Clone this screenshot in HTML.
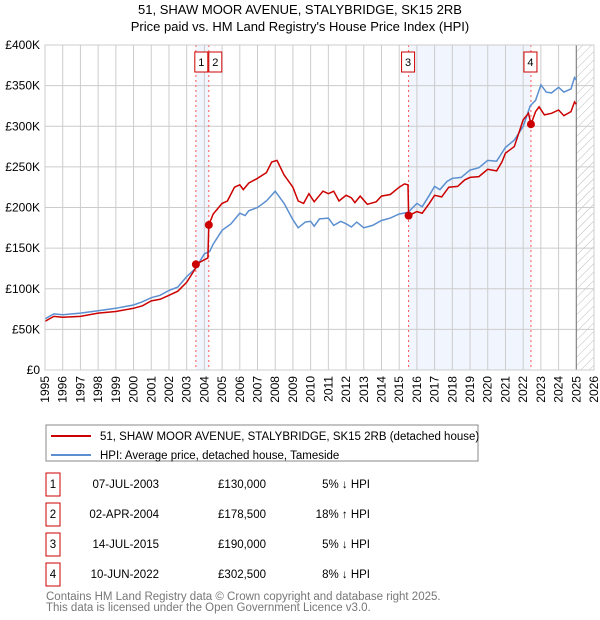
<!DOCTYPE html>
<html><head><meta charset="utf-8"><style>
body{margin:0;background:#fff;font-family:"Liberation Sans","DejaVu Sans",sans-serif;}
svg{display:block}
</style></head><body>
<svg id="c" width="600" height="620" xmlns="http://www.w3.org/2000/svg">
<defs><pattern id="hatch" width="6" height="6" patternUnits="userSpaceOnUse" patternTransform="rotate(45)"><line x1="0" y1="0" x2="0" y2="6" stroke="#bbb" stroke-width="1"/></pattern></defs>
<text x="300" y="14" text-anchor="middle" font-size="13" fill="#000">51, SHAW MOOR AVENUE, STALYBRIDGE, SK15 2RB</text>
<text x="300" y="31" text-anchor="middle" font-size="13" fill="#000">Price paid vs. HM Land Registry's House Price Index (HPI)</text>
<g id="plot"></g>
<g>
<rect x="46" y="425" width="432" height="36" fill="#fff" stroke="#888"/>
<line x1="51" y1="436" x2="91" y2="436" stroke="#cc0000" stroke-width="2"/>
<text x="100" y="440" font-size="11.5">51, SHAW MOOR AVENUE, STALYBRIDGE, SK15 2RB (detached house)</text>
<line x1="51" y1="455" x2="91" y2="455" stroke="#5b8fd0" stroke-width="2"/>
<text x="100" y="459" font-size="11.5">HPI: Average price, detached house, Tameside</text>
</g>
<g id="table" font-size="11.5"></g>
<text x="46" y="600" font-size="11.5" fill="#777">Contains HM Land Registry data © Crown copyright and database right 2025.</text>
<text x="46" y="611" font-size="11.5" fill="#777">This data is licensed under the Open Government Licence v3.0.</text>
</svg>
<script>
const hpiX=[1995,1995.5,1996,1997,1998,1999,1999.5,2000,2000.5,2001,2001.5,2002,2002.5,2003,2003.5,2004,2004.3,2004.5,2005,2005.5,2006,2006.3,2006.5,2007,2007.5,2008,2008.5,2009,2009.3,2009.7,2010,2010.2,2010.5,2011,2011.3,2011.7,2012,2012.3,2012.6,2013,2013.5,2014,2014.5,2015,2015.5,2016,2016.3,2016.7,2017,2017.3,2017.7,2018,2018.5,2019,2019.5,2020,2020.5,2021,2021.5,2022,2022.4,2022.7,2023,2023.3,2023.6,2024,2024.3,2024.7,2024.9,2025];
const hpiY=[63,69,68,70,73,76,78,80,84,89,92,98,102,115,125,143,146,155,172,180,193,190,196,200,208,220,205,185,175,182,183,177,186,187,178,183,180,176,182,175,178,184,187,192,194,205,201,215,226,222,232,236,237,246,249,258,257,274,283,300,325,332,351,342,341,348,342,346,360,357];
const propX=[1995,1995.5,1996,1997,1998,1999,2000,2000.5,2001,2001.5,2002,2002.5,2003,2003.5,2003.52,2004.2,2004.25,2004.5,2005,2005.3,2005.7,2006,2006.2,2006.5,2007,2007.5,2007.8,2008.1,2008.5,2009,2009.3,2009.6,2009.9,2010.2,2010.7,2011,2011.3,2011.6,2012,2012.3,2012.5,2012.8,2013.2,2013.7,2014,2014.5,2015,2015.3,2015.5,2015.53,2016,2016.3,2016.7,2017,2017.4,2017.8,2018.3,2018.7,2019,2019.5,2020,2020.5,2020.8,2021,2021.5,2022,2022.3,2022.44,2022.7,2022.9,2023.2,2023.6,2024,2024.3,2024.7,2024.9,2025];
const propY=[60,66,65,66,70,72,76,79,85,87,92,97,108,125,130,138,178.5,192,205,208,225,228,222,230,236,243,256,258,240,225,208,205,217,207,220,217,220,208,215,212,206,214,204,207,214,216,225,229,228,190,195,193,205,215,213,225,226,234,237,238,247,245,256,267,275,308,316,302.5,318,324,314,316,320,313,318,330,327];
const saleLabels=["1","2","3","4"];
const saleT=[2003.52,2004.25,2015.53,2022.44];
const saleV=[130,178.5,190,302.5];
const saleDates=["07-JUL-2003","02-APR-2004","14-JUL-2015","10-JUN-2022"];
const salePrices=["£130,000","£178,500","£190,000","£302,500"];
const saleHpi=["5% ↓ HPI","18% ↑ HPI","5% ↓ HPI","8% ↓ HPI"];
const yTicks=[0,50,100,150,200,250,300,350,400];
const yTickLabels=["£0","£50K","£100K","£150K","£200K","£250K","£300K","£350K","£400K"];
const xYears=[];for(let y=1995;y<=2026;y++)xYears.push(y);

const L=45,R=594,T=45,B=370,X0=1995,X1=2026,YMAX=400;
const sx=t=>L+(t-X0)/(X1-X0)*(R-L);
const sy=v=>B-v/YMAX*(B-T);
const NS="http://www.w3.org/2000/svg";
const g=document.getElementById('plot');
function mk(tag,attrs,parent){const e=document.createElementNS(NS,tag);for(const k in attrs)e.setAttribute(k,attrs[k]);(parent||g).appendChild(e);return e;}

let e;
e=mk('rect',{x:sx(saleT[0]),y:T,width:sx(saleT[1])-sx(saleT[0]),height:B-T,fill:'#eef3fc',opacity:0.8});


e=mk('rect',{x:sx(saleT[2]),y:T,width:sx(saleT[3])-sx(saleT[2]),height:B-T,fill:'#eef3fc',opacity:0.8});


e=mk('rect',{x:sx(2025),y:T,width:R-sx(2025),height:B-T,fill:'url(#hatch)'});



xYears.forEach(y=>{
  e=mk('line',{x1:sx(y),x2:sx(y),y1:T,y2:B,stroke:'#ccc','stroke-width':1});
  
  
  e=mk('text',{x:sx(y)+4,y:B+6,'font-size':12,transform:`rotate(-90 ${sx(y)+4} ${B+6})`,'text-anchor':'end'});
  e.textContent=y;
  
  
});
yTicks.forEach((v,i)=>{
  e=mk('line',{x1:L,x2:R,y1:sy(v),y2:sy(v),stroke:'#ccc','stroke-width':1});
  
  
  e=mk('text',{x:L-5,y:sy(v)+4,'font-size':12,'text-anchor':'end'});
  e.textContent=yTickLabels[i];
  
  
});
e=mk('line',{x1:sx(2025),x2:sx(2025),y1:T,y2:B,stroke:'#777','stroke-width':1});


saleT.forEach((t,i)=>{
  e=mk('line',{x1:sx(t),x2:sx(t),y1:T,y2:B,stroke:'#ff5555','stroke-width':1,'stroke-dasharray':'2,3'});
  
  
});
function path(xs,ys){return xs.map((x,i)=>(i?'L':'M')+sx(x).toFixed(1)+','+sy(ys[i]).toFixed(1)).join('');}
e=mk('path',{d:path(hpiX,hpiY),fill:'none',stroke:'#5b8fd0','stroke-width':1.5});


e=mk('path',{d:path(propX,propY),fill:'none',stroke:'#cc0000','stroke-width':1.5});


saleT.forEach((t,i)=>{
  e=mk('circle',{cx:sx(t),cy:sy(saleV[i]),r:4,fill:'#cc0000'});
  
  
});
saleT.forEach((t,i)=>{
  const bx=(i===0)?sx(saleT[1])-14:(i===1?sx(saleT[1]):sx(t)-7);
  const b=mk('g',{});
  
  
  mk('rect',{x:bx,y:52,width:13,height:20,fill:'#fff',stroke:'#cc0000'},b);
  const tx=mk('text',{x:bx+6.5,y:66,'font-size':11,'text-anchor':'middle'},b);
  tx.textContent=saleLabels[i];
});
mk('rect',{x:L,y:T,width:R-L,height:B-T,fill:'none',stroke:'#ccc'});

const tb=document.getElementById('table');
saleLabels.forEach((l,i)=>{
  const y=488+i*30;
  const r=mk('g',{},tb);
  
  
  mk('rect',{x:46,y:y-15,width:14,height:23,fill:'#fff',stroke:'#cc0000'},r);
  let t=mk('text',{x:53,y:y,'text-anchor':'middle'},r);t.textContent=l;
  t=mk('text',{x:159,y:y,'text-anchor':'end'},r);t.textContent=saleDates[i];
  t=mk('text',{x:266,y:y,'text-anchor':'end'},r);t.textContent=salePrices[i];
  t=mk('text',{x:370,y:y,'text-anchor':'end'},r);t.textContent=saleHpi[i];
});
</script>
</body></html>
